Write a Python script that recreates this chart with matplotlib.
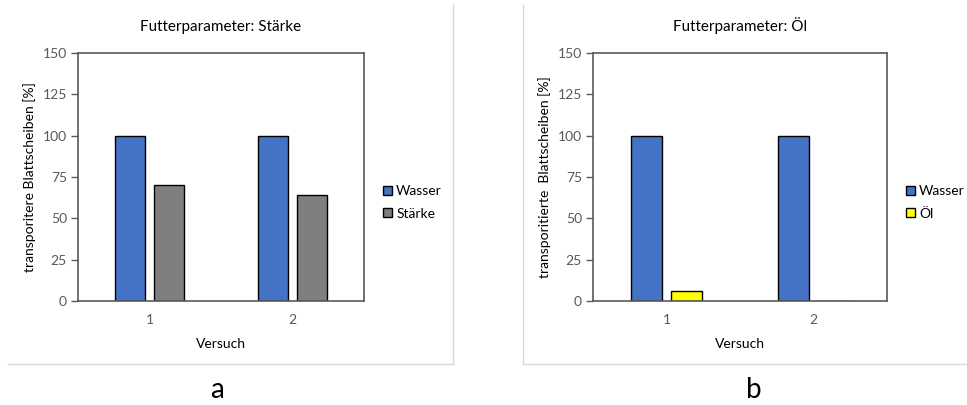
import numpy as np
import matplotlib.pyplot as plt
from matplotlib.lines import Line2D

plt.rcParams['font.family'] = ['Lato', 'DejaVu Sans']

# data
versuche = ["1", "2"]
wasser_a = [100, 100]
staerke = [70, 64]
wasser_b = [100, 100]
oel = [6, 0]

blue = "#4472c4"
grey = "#7f7f7f"
yellow = "#ffff00"
axis_grey = "#595959"

fig = plt.figure(figsize=(9.67, 4.05), dpi=100)


def panel(rect, title, ylabel, vals1, vals2, name2, col2, leg_x):
    ax = fig.add_axes(rect)
    x = np.arange(len(versuche))
    w = 0.21
    off = 0.135
    ax.bar(x - off, vals1, w, color=blue, edgecolor="black", linewidth=1, label="Wasser")
    ax.bar(x + off, vals2, w, color=col2, edgecolor="black", linewidth=1, label=name2)
    ax.set_xlim(-0.5, 1.5)
    ax.set_ylim(0, 150)
    ax.set_yticks([0, 25, 50, 75, 100, 125, 150])
    ax.set_xticks(x)
    ax.set_xticklabels(versuche)
    for s in ax.spines.values():
        s.set_color(axis_grey)
        s.set_linewidth(1.2)
    ax.tick_params(axis="y", colors=axis_grey, labelsize=10, length=5, width=1, direction="out", pad=3)
    ax.tick_params(axis="x", colors=axis_grey, labelsize=10, length=0, pad=9)
    ax.set_title(title, fontsize=11, pad=16, color="black")
    ax.set_xlabel("Versuch", fontsize=10, labelpad=9)
    ax.set_ylabel(ylabel, fontsize=10, labelpad=5)
    ax.legend(loc="center left", bbox_to_anchor=(leg_x, 0.5), bbox_transform=fig.transFigure,
              frameon=False, fontsize=10, handlelength=0.65, handleheight=0.65,
              handletextpad=0.3, labelspacing=0.75, borderpad=0, borderaxespad=0)
    return ax


panel([78 / 967, 104 / 405, 286 / 967, 248 / 405], "Futterparameter: Stärke",
      "transporitere Blattscheiben [%]", wasser_a, staerke, "Stärke", grey, 383 / 967)
panel([593 / 967, 104 / 405, 294 / 967, 248 / 405], "Futterparameter: Öl",
      "transporitierte  Blattscheiben [%]", wasser_b, oel, "Öl", yellow, 906 / 967)

# panel frames
frame = "#d9d9d9"
fig.add_artist(Line2D([453 / 967, 453 / 967], [1 - 5 / 405, 1 - 364 / 405], color=frame, lw=1))
fig.add_artist(Line2D([8 / 967, 453 / 967], [1 - 364 / 405, 1 - 364 / 405], color=frame, lw=1))
fig.add_artist(Line2D([523 / 967, 523 / 967], [1 - 5 / 405, 1 - 364 / 405], color=frame, lw=1))
fig.add_artist(Line2D([523 / 967, 967 / 967], [1 - 364 / 405, 1 - 364 / 405], color=frame, lw=1))

fig.text(217 / 967, 1 - 390 / 405, "a", fontsize=20, ha="center", va="center")
fig.text(754 / 967, 1 - 390 / 405, "b", fontsize=20, ha="center", va="center")

fig.savefig("out.png", dpi=100)
